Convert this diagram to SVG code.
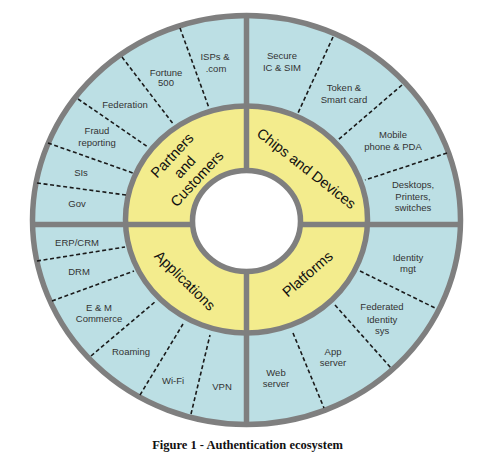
<svg xmlns="http://www.w3.org/2000/svg" width="500" height="462" viewBox="0 0 500 462">
<style>
.ring{stroke:#7f7f7f;stroke-width:5.5}
.div{stroke:#7f7f7f;stroke-width:5.5}
.dash{stroke:#1a1a1a;stroke-width:1.6;stroke-dasharray:4 2.6;fill:none}
.t{font-family:"Liberation Sans",Arial,sans-serif;font-size:9.5px;fill:#333;text-anchor:middle}
.big{font-family:"Liberation Sans",Arial,sans-serif;font-size:14.5px;fill:#111;text-anchor:middle}
.cap{font-family:"Liberation Serif","Times New Roman",serif;font-size:12.5px;font-weight:bold;fill:#111;text-anchor:middle}
</style>
<rect width="500" height="462" fill="#ffffff"/>
<g id="rings">
<ellipse cx="246.5" cy="220" rx="214" ry="204.5" fill="#bcdfe4" class="ring"/>
<ellipse cx="246.5" cy="219.5" rx="121" ry="113.5" fill="#f3ec8d" class="ring"/>
</g>
<g id="connectors">
<line class="dash" x1="180" y1="28" x2="209" y2="108"/>
<line class="dash" x1="122" y1="57" x2="174" y2="125"/>
<line class="dash" x1="78" y1="99" x2="148" y2="147"/>
<line class="dash" x1="48" y1="143" x2="133" y2="173"/>
<line class="dash" x1="37" y1="183" x2="126" y2="195"/>
<line class="dash" x1="333" y1="37" x2="298" y2="113"/>
<line class="dash" x1="402" y1="85" x2="338" y2="140"/>
<line class="dash" x1="447" y1="153" x2="365" y2="180"/>
<line class="dash" x1="37" y1="261" x2="125" y2="247"/>
<line class="dash" x1="52" y1="301" x2="134" y2="271"/>
<line class="dash" x1="91" y1="356" x2="156" y2="301"/>
<line class="dash" x1="140" y1="395" x2="183" y2="324"/>
<line class="dash" x1="191" y1="414" x2="210" y2="335"/>
<line class="dash" x1="360" y1="271" x2="437" y2="309"/>
<line class="dash" x1="335" y1="305" x2="391" y2="368"/>
<line class="dash" x1="293" y1="333" x2="324" y2="408"/>
<line class="div" x1="246.5" y1="14" x2="246.5" y2="426"/>
<line class="div" x1="31" y1="224.5" x2="462" y2="224.5"/>
</g>
<ellipse id="hub" cx="246.5" cy="221" rx="54" ry="50.5" fill="#ffffff" class="ring"/>
<g id="partners">
<text class="t" x="215" y="59.5">ISPs &amp;</text>
<text class="t" x="216" y="71.5">.com</text>
<text class="t" x="166" y="75.5">Fortune</text>
<text class="t" x="166" y="86">500</text>
<text class="t" x="125" y="107.5">Federation</text>
<text class="t" x="97" y="133.5">Fraud</text>
<text class="t" x="97" y="145.5">reporting</text>
<text class="t" x="81" y="175.5">SIs</text>
<text class="t" x="77" y="206.5">Gov</text>
<text class="big" transform="translate(184.5,167) rotate(-47)"><tspan x="0" y="-12">Partners</tspan><tspan x="0" y="5">and</tspan><tspan x="0" y="22">Customers</tspan></text>
</g>
<g id="chips">
<text class="t" x="282" y="58.5">Secure</text>
<text class="t" x="282" y="70.5">IC &amp; SIM</text>
<text class="t" x="344" y="90.5">Token &amp;</text>
<text class="t" x="344" y="102.5">Smart card</text>
<text class="t" x="393" y="137.5">Mobile</text>
<text class="t" x="393" y="149.5">phone &amp; PDA</text>
<text class="t" x="413" y="187.5">Desktops,</text>
<text class="t" x="413" y="199.5">Printers,</text>
<text class="t" x="413" y="210.5">switches</text>
<text class="big" transform="translate(306.5,168.5) rotate(38)" y="5">Chips and Devices</text>
</g>
<g id="applications">
<text class="t" x="77" y="245.5">ERP/CRM</text>
<text class="t" x="79" y="274.5">DRM</text>
<text class="t" x="99" y="310.5">E &amp; M</text>
<text class="t" x="99" y="321.5">Commerce</text>
<text class="t" x="131" y="354.5">Roaming</text>
<text class="t" x="173" y="383.5">Wi-Fi</text>
<text class="t" x="222" y="389.5">VPN</text>
<text class="big" transform="translate(185,280.5) rotate(44.5)" y="5">Applications</text>
</g>
<g id="platforms">
<text class="t" x="408" y="260.5">Identity</text>
<text class="t" x="408" y="271.5">mgt</text>
<text class="t" x="382" y="309.5">Federated</text>
<text class="t" x="382" y="322.5">Identity</text>
<text class="t" x="382" y="333.5">sys</text>
<text class="t" x="333" y="354.5">App</text>
<text class="t" x="333" y="365.5">server</text>
<text class="t" x="276" y="375.5">Web</text>
<text class="t" x="276" y="386.5">server</text>
<text class="big" transform="translate(307.5,274) rotate(-41)" y="5">Platforms</text>
</g>
<text class="cap" x="247.5" y="448.5">Figure 1 - Authentication ecosystem</text>
</svg>
